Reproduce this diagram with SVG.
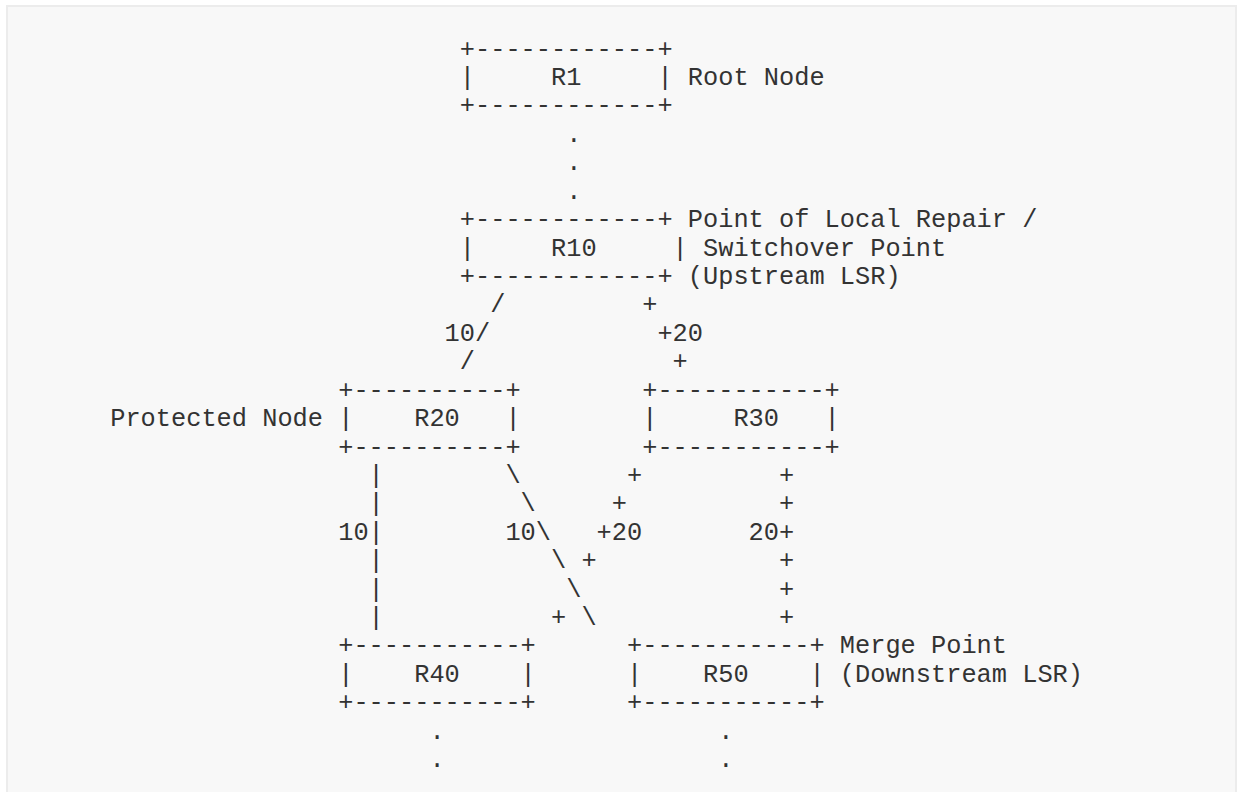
<svg xmlns="http://www.w3.org/2000/svg" width="1239" height="792" viewBox="0 0 1239 792" xml:space="preserve">
<style>
.t{font-family:"Liberation Mono","DejaVu Sans Mono",monospace;font-size:25.33px;fill:#333;white-space:pre}
</style>
<rect x="0" y="0" width="1239" height="792" fill="#ffffff"/>
<rect x="7" y="6" width="1229" height="800" fill="#f8f8f8" stroke="#ececec" stroke-width="2"/>
<g id="R1">
<text class="t" x="459.8" y="56.6">+------------+</text>
<text class="t" x="459.8" y="85.0">|     R1     |</text>
<text class="t" x="459.8" y="113.4">+------------+</text>
<text class="t" x="687.8" y="85.0">Root Node</text>
</g>
<g id="R10">
<text class="t" x="459.8" y="227.1">+------------+</text>
<text class="t" x="459.8" y="255.5">|     R10     |</text>
<text class="t" x="459.8" y="284.0">+------------+</text>
<text class="t" x="687.8" y="227.1">Point of Local Repair /</text>
<text class="t" x="703.0" y="255.5">Switchover Point</text>
<text class="t" x="687.8" y="284.0">(Upstream LSR)</text>
</g>
<g id="R20">
<text class="t" x="338.2" y="397.6">+----------+</text>
<text class="t" x="338.2" y="426.1">|    R20   |</text>
<text class="t" x="338.2" y="454.5">+----------+</text>
<text class="t" x="110.2" y="426.1">Protected Node</text>
</g>
<g id="R30">
<text class="t" x="642.2" y="397.6">+-----------+</text>
<text class="t" x="642.2" y="426.1">|     R30   |</text>
<text class="t" x="642.2" y="454.5">+-----------+</text>
</g>
<g id="R40">
<text class="t" x="338.2" y="653.4">+-----------+</text>
<text class="t" x="338.2" y="681.8">|    R40    |</text>
<text class="t" x="338.2" y="710.3">+-----------+</text>
</g>
<g id="R50">
<text class="t" x="627.0" y="653.4">+-----------+</text>
<text class="t" x="627.0" y="681.8">|    R50    |</text>
<text class="t" x="627.0" y="710.3">+-----------+</text>
<text class="t" x="839.8" y="653.4">Merge Point</text>
<text class="t" x="839.8" y="681.8">(Downstream LSR)</text>
</g>
<g id="connectors">
<text class="t" x="566.2" y="141.9">.</text>
<text class="t" x="566.2" y="170.3">.</text>
<text class="t" x="566.2" y="198.7">.</text>
<text class="t" x="490.2" y="312.4">/</text>
<text class="t" x="642.2" y="312.4">+</text>
<text class="t" x="444.6" y="340.8">10/</text>
<text class="t" x="657.4" y="340.8">+20</text>
<text class="t" x="459.8" y="369.2">/</text>
<text class="t" x="672.6" y="369.2">+</text>
<text class="t" x="368.6" y="482.9">|</text>
<text class="t" x="505.4" y="482.9">\</text>
<text class="t" x="627.0" y="482.9">+</text>
<text class="t" x="779.0" y="482.9">+</text>
<text class="t" x="368.6" y="511.3">|</text>
<text class="t" x="520.6" y="511.3">\</text>
<text class="t" x="611.8" y="511.3">+</text>
<text class="t" x="779.0" y="511.3">+</text>
<text class="t" x="338.2" y="539.7">10|</text>
<text class="t" x="505.4" y="539.7">10\</text>
<text class="t" x="596.6" y="539.7">+20</text>
<text class="t" x="748.6" y="539.7">20+</text>
<text class="t" x="368.6" y="568.2">|</text>
<text class="t" x="551.0" y="568.2">\</text>
<text class="t" x="581.4" y="568.2">+</text>
<text class="t" x="779.0" y="568.2">+</text>
<text class="t" x="368.6" y="596.6">|</text>
<text class="t" x="566.2" y="596.6">\</text>
<text class="t" x="779.0" y="596.6">+</text>
<text class="t" x="368.6" y="625.0">|</text>
<text class="t" x="551.0" y="625.0">+</text>
<text class="t" x="581.4" y="625.0">\</text>
<text class="t" x="779.0" y="625.0">+</text>
<text class="t" x="429.4" y="738.7">.</text>
<text class="t" x="429.4" y="767.1">.</text>
<text class="t" x="718.2" y="738.7">.</text>
<text class="t" x="718.2" y="767.1">.</text>
</g>
</svg>
